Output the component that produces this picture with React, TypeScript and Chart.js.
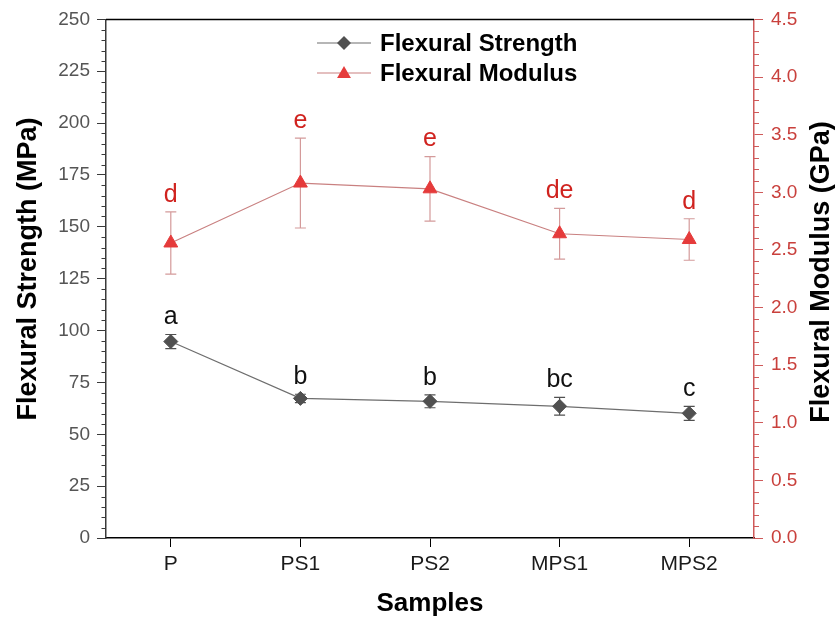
import React, { useEffect, useRef } from "react";
import { Chart, registerables } from "chart.js";

Chart.register(...registerables);

const categories = ["P", "PS1", "PS2", "MPS1", "MPS2"];
const strength = [94.7, 67.3, 65.9, 63.5, 60.1];
const strengthErr = [3.4, 2.0, 3.1, 4.3, 3.4];
const modulus = [2.56, 3.08, 3.03, 2.64, 2.59];
const modulusErr = [0.27, 0.39, 0.28, 0.22, 0.18];
const strengthLetters = ["a", "b", "b", "bc", "c"];
const modulusLetters = ["d", "e", "e", "de", "d"];
const leftRange = [0, 250];
const leftStep = 25;
const leftMinor = 5;
const rightRange = [0, 4.5];
const rightStep = 0.5;
const rightMinor = 0.1;

const FONT = '"Liberation Sans", Arial, Helvetica, sans-serif';
const STRENGTH_COLOR = "#505050";
const STRENGTH_LINE = "#6e6e6e";
const MOD_LINE = "#c98080";
const MOD_ERR = "#d49a9a";
const MOD_POINT = "#e53b3b";
const MOD_LABEL = "#d0231f";
const RIGHT_AXIS = "#cf5a5a";
const RIGHT_TICK_TEXT = "#c9403c";
const LEFT_AXIS = "#3a3a3a";

function diamond(ctx: CanvasRenderingContext2D, x: number, y: number, r: number, color: string) {
  ctx.beginPath();
  ctx.moveTo(x, y - r);
  ctx.lineTo(x + r, y);
  ctx.lineTo(x, y + r);
  ctx.lineTo(x - r, y);
  ctx.closePath();
  ctx.fillStyle = color;
  ctx.fill();
}

function triangle(ctx: CanvasRenderingContext2D, x: number, y: number, r: number, color: string) {
  ctx.beginPath();
  ctx.moveTo(x, y - r);
  ctx.lineTo(x + 0.866 * r, y + 0.5 * r);
  ctx.lineTo(x - 0.866 * r, y + 0.5 * r);
  ctx.closePath();
  ctx.fillStyle = color;
  ctx.fill();
}

const decorPlugin = {
  id: "decor",
  beforeDatasetsDraw(chart: any) {
    const ctx = chart.ctx as CanvasRenderingContext2D;
    const x = chart.scales.x;
    const y = chart.scales.y;
    const y1 = chart.scales.y1;
    const cap = 5.5;
    ctx.save();
    ctx.lineWidth = 1.2;
    strength.forEach((v, i) => {
      const px = x.getPixelForValue(i);
      const top = y.getPixelForValue(v + strengthErr[i]);
      const bot = y.getPixelForValue(v - strengthErr[i]);
      ctx.strokeStyle = STRENGTH_COLOR;
      ctx.beginPath();
      ctx.moveTo(px, top); ctx.lineTo(px, bot);
      ctx.moveTo(px - cap, top); ctx.lineTo(px + cap, top);
      ctx.moveTo(px - cap, bot); ctx.lineTo(px + cap, bot);
      ctx.stroke();
    });
    modulus.forEach((v, i) => {
      const px = x.getPixelForValue(i);
      const top = y1.getPixelForValue(v + modulusErr[i]);
      const bot = y1.getPixelForValue(v - modulusErr[i]);
      ctx.strokeStyle = MOD_ERR;
      ctx.beginPath();
      ctx.moveTo(px, top); ctx.lineTo(px, bot);
      ctx.moveTo(px - cap, top); ctx.lineTo(px + cap, top);
      ctx.moveTo(px - cap, bot); ctx.lineTo(px + cap, bot);
      ctx.stroke();
    });
    ctx.restore();
  },
  afterDraw(chart: any) {
    const ctx = chart.ctx as CanvasRenderingContext2D;
    const x = chart.scales.x;
    const y = chart.scales.y;
    const y1 = chart.scales.y1;
    const area = chart.chartArea;
    ctx.save();

    // top border
    ctx.strokeStyle = "#000";
    ctx.lineWidth = 1.5;
    ctx.beginPath();
    ctx.moveTo(area.left, area.top);
    ctx.lineTo(area.right, area.top);
    ctx.stroke();

    // minor ticks left
    ctx.lineWidth = 1;
    ctx.strokeStyle = LEFT_AXIS;
    ctx.beginPath();
    for (let v = leftRange[0]; v <= leftRange[1] + 1e-9; v += leftMinor) {
      if (Math.abs(v / leftStep - Math.round(v / leftStep)) < 1e-6) continue;
      const py = Math.round(y.getPixelForValue(v)) + 0.5;
      ctx.moveTo(area.left, py);
      ctx.lineTo(area.left - 4.5, py);
    }
    ctx.stroke();

    // minor ticks right
    ctx.strokeStyle = RIGHT_AXIS;
    ctx.beginPath();
    for (let k = 0; k <= Math.round((rightRange[1] - rightRange[0]) / rightMinor); k++) {
      const v = rightRange[0] + k * rightMinor;
      if (k % Math.round(rightStep / rightMinor) === 0) continue;
      const py = Math.round(y1.getPixelForValue(v)) + 0.5;
      ctx.moveTo(area.right, py);
      ctx.lineTo(area.right + 5, py);
    }
    ctx.stroke();

    // letters
    ctx.textAlign = "center";
    ctx.textBaseline = "middle";
    ctx.font = `25px ${FONT}`;
    strength.forEach((v, i) => {
      const px = x.getPixelForValue(i);
      const top = y.getPixelForValue(v + strengthErr[i]);
      ctx.fillStyle = "#111";
      ctx.fillText(strengthLetters[i], px, top - 17);
    });
    modulus.forEach((v, i) => {
      const px = x.getPixelForValue(i);
      const top = y1.getPixelForValue(v + modulusErr[i]);
      ctx.fillStyle = MOD_LABEL;
      ctx.fillText(modulusLetters[i], px, top - 17);
    });

    // legend
    const lx0 = 317, lx1 = 371, mx = 344;
    const rows = [
      { yy: 43, line: STRENGTH_LINE, text: "Flexural Strength", kind: "d" },
      { yy: 73, line: MOD_LINE, text: "Flexural Modulus", kind: "t" },
    ];
    rows.forEach((r) => {
      ctx.strokeStyle = r.line;
      ctx.lineWidth = 1.2;
      ctx.beginPath();
      ctx.moveTo(lx0, r.yy);
      ctx.lineTo(lx1, r.yy);
      ctx.stroke();
      if (r.kind === "d") diamond(ctx, mx, r.yy, 7, STRENGTH_COLOR);
      else triangle(ctx, mx, r.yy + 1, 8, MOD_POINT);
      ctx.fillStyle = "#000";
      ctx.font = `bold 24px ${FONT}`;
      ctx.textAlign = "left";
      ctx.textBaseline = "middle";
      ctx.fillText(r.text, 380, r.yy + 1);
    });

    // axis titles
    ctx.fillStyle = "#000";
    ctx.font = `bold 27px ${FONT}`;
    ctx.textAlign = "center";
    ctx.textBaseline = "middle";
    ctx.save();
    ctx.translate(29, 269);
    ctx.rotate(-Math.PI / 2);
    ctx.fillText("Flexural Strength (MPa)", 0, 0);
    ctx.restore();
    ctx.save();
    ctx.translate(822, 272);
    ctx.rotate(-Math.PI / 2);
    ctx.fillText("Flexural Modulus (GPa)", 0, 0);
    ctx.restore();
    ctx.font = `bold 26px ${FONT}`;
    ctx.fillText("Samples", (area.left + area.right) / 2, 604);

    ctx.restore();
  },
};

export default function App() {
  const ref = useRef<HTMLCanvasElement | null>(null);
  useEffect(() => {
    document.body.style.margin = "0";
    const canvas = ref.current;
    if (!canvas) return;
    const chart = new Chart(canvas, {
      type: "line",
      data: {
        labels: categories,
        datasets: [
          {
            label: "Flexural Strength",
            data: strength,
            yAxisID: "y",
            borderColor: STRENGTH_LINE,
            borderWidth: 1.2,
            pointStyle: "rectRot",
            pointRadius: 7,
            pointBackgroundColor: STRENGTH_COLOR,
            pointBorderColor: STRENGTH_COLOR,
            pointBorderWidth: 1,
            tension: 0,
          },
          {
            label: "Flexural Modulus",
            data: modulus,
            yAxisID: "y1",
            borderColor: MOD_LINE,
            borderWidth: 1.2,
            pointStyle: "triangle",
            pointRadius: 8,
            pointBackgroundColor: MOD_POINT,
            pointBorderColor: MOD_POINT,
            pointBorderWidth: 1,
            tension: 0,
          },
        ],
      },
      options: {
        responsive: false,
        animation: false,
        layout: { padding: { top: 18, left: 0, right: 0, bottom: 0 } },
        plugins: { legend: { display: false }, tooltip: { enabled: false } },
        scales: {
          x: {
            type: "category",
            offset: true,
            grid: { drawOnChartArea: false, drawTicks: true, tickLength: 9, color: "#000", offset: false },
            border: { color: "#000", width: 1.5 },
            ticks: { font: { family: FONT, size: 21 }, color: "#1a1a1a", padding: 5 },
            afterFit(scale: any) { scale.height = 84; },
          },
          y: {
            position: "left",
            min: leftRange[0],
            max: leftRange[1],
            ticks: { stepSize: leftStep, font: { family: FONT, size: 19 }, color: "#555", padding: 7 },
            grid: { drawOnChartArea: false, drawTicks: true, tickLength: 9, color: LEFT_AXIS },
            border: { color: LEFT_AXIS, width: 1.5 },
            afterFit(scale: any) { scale.width = 106; },
          },
          y1: {
            position: "right",
            min: rightRange[0],
            max: rightRange[1],
            ticks: {
              stepSize: rightStep,
              font: { family: FONT, size: 19 },
              color: RIGHT_TICK_TEXT,
              padding: 8,
              callback: (v: any) => Number(v).toFixed(1),
            },
            grid: { drawOnChartArea: false, drawTicks: true, tickLength: 9, color: RIGHT_AXIS },
            border: { color: RIGHT_AXIS, width: 1.5 },
            afterFit(scale: any) { scale.width = 84; },
          },
        },
      },
      plugins: [decorPlugin],
    });
    return () => chart.destroy();
  }, []);
  return (
    <div style={{ position: "absolute", left: 0, top: 0, width: 838, height: 622, background: "#fff" }}>
      <canvas ref={ref} width={838} height={622} style={{ display: "block" }} />
    </div>
  );
}
